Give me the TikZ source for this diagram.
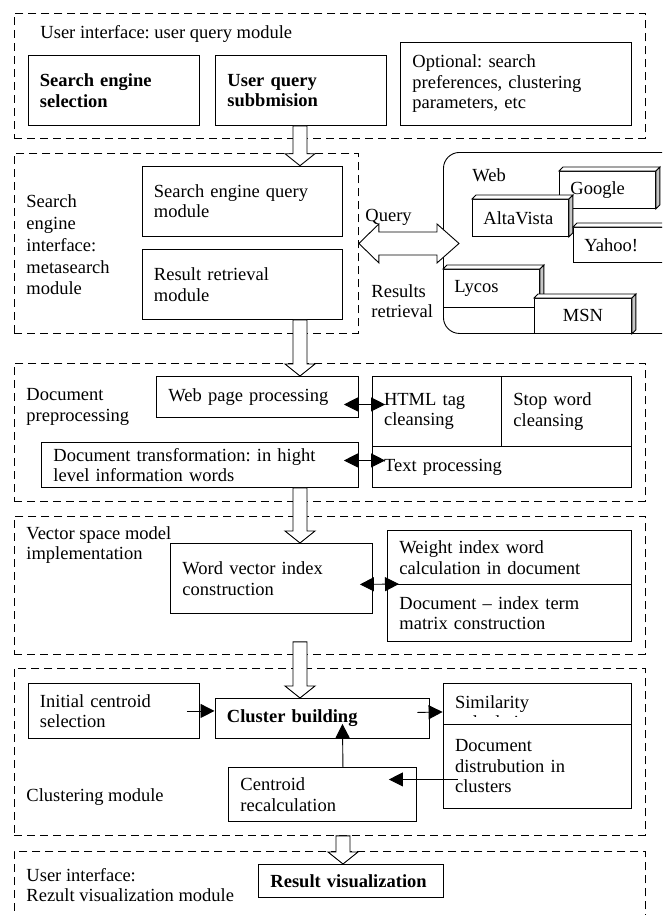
\documentclass[tikz,border=0pt]{standalone}
\usepackage{fontspec}
\setmainfont{Liberation Serif}
\usetikzlibrary{calc, arrows.meta, positioning}
\frenchspacing

% hollow block arrow going down, tip on the second point
\newcommand{\flowdown}[2]{%
  \draw[flow] let \p1=(#1), \p2=(#2) in
    (\x1-7pt,\y1) -- (\x1-7pt,\y2+12pt) -- (\x1-15pt,\y2+12pt) -- (\x1,\y2)
    -- (\x1+15pt,\y2+12pt) -- (\x1+7pt,\y2+12pt) -- (\x1+7pt,\y1) -- cycle;}

% search engine as a small 3d box
\newcommand{\webengine}[6][]{%
  \node (#2) [site, #1, text width=#4, minimum height=#5] at (#3) {#6};
  \draw[fill=white] (#2.north west) -- ++(4,-4) -- ($(#2.north east)+(4,-4)$) -- (#2.north east) -- cycle;
  \draw[fill=gray!45] (#2.north east) -- ++(4,-4) -- ($(#2.south east)+(4,-4)$) -- (#2.south east) -- cycle;}

\begin{document}
\begin{tikzpicture}[x=1pt, y=-1pt, line width=0.9pt, every node/.style={font=\fontsize{18.5pt}{20.5pt}\selectfont}]

	\tikzstyle{group}=[draw, dash pattern=on 8pt off 5pt, anchor=north west, inner sep=0pt]
	\tikzstyle{box}=[draw, fill=white, anchor=north west, align=left, inner xsep=12pt, inner ysep=0pt]
	\tikzstyle{strong}=[font=\fontsize{18.5pt}{20.5pt}\selectfont\bfseries]
	\tikzstyle{site}=[box, inner xsep=11pt]
	\tikzstyle{caption}=[anchor=west, align=left, inner sep=0pt]
	\tikzstyle{flow}=[draw, fill=white]
	\tikzstyle{link}=[-{Triangle[length=14pt, width=14pt]}]
	\tikzstyle{both}=[{Triangle[length=14pt, width=14pt]}-{Triangle[length=14pt, width=14pt]}]

	\useasboundingbox (0,0) rectangle (662,915);
	\clip (0,0) rectangle (662,915);

	\coordinate (spine) at (300,0);
	\coordinate (spine2) at (343,0);

	%% module frames
	\node (g1) [group, minimum width=631pt, minimum height=125pt] at (14,13) {};
	\node (g2) [group, minimum width=344pt, minimum height=180pt] at (14,153) {};
	\node (g3) [group, minimum width=631pt, minimum height=138pt] at (14,363) {};
	\node (g4) [group, minimum width=631pt, minimum height=138pt] at (14,516) {};
	\node (g5) [group, minimum width=631pt, minimum height=167pt] at (14,668) {};
	\node (g6) [group, minimum width=631pt, minimum height=90pt] at (14,851) {};

	%% user query module
	\node (ttl) [caption] at (40,34) {User interface: user query module};
	\node (ses) [box, strong, text width=147.5pt, minimum height=70pt] at (27.5,55) {Search engine\\selection};
	\node (usrq) [box, strong, text width=147pt, minimum height=70pt] at (215,55) {User query\\subbmision};
	\node (opt) [box, text width=207pt, minimum height=83pt] at (400,42) {Optional: search\\preferences, clustering\\parameters, etc};

	%% metasearch module
	\node (lbl2) [caption, font=\fontsize{18.5pt}{21.7pt}\selectfont] at (26,245) {Search\\engine\\interface:\\metasearch\\module};
	\node (seq) [box, text width=176.5pt, minimum height=70pt] at (141.5,165.7) {Search engine query\\module};
	\node (rrm) [box, text width=176.5pt, minimum height=70pt] at (141.5,249) {Result retrieval\\module};

	%% the web
	\node (web) [draw, rounded corners=16pt, anchor=north west, minimum width=250pt, minimum height=181pt, inner sep=0pt] at (443,152) {};
	\node (webl) [caption] at (472,175) {Web};
	\webengine{google}{559,171}{74pt}{37pt}{Google}
	\webengine{altavista}{472,199}{74pt}{37pt}{AltaVista}
	\webengine{yahoo}{573,227}{74pt}{35pt}{Yahoo!}
	\webengine{lycos}{443,269}{74pt}{38pt}{Lycos}
	\webengine[align=center]{msn}{534,298}{75pt}{35pt}{MSN}

	\draw[flow] let \p1=(g2.east), \p2=($(web.west)+(16,0)$) in
		(\p1) -- (\x1+20pt,\y1+19.5pt) -- (\x1+20pt,\y1+11.5pt) -- (\x2-22pt,\y1+11.5pt)
		-- (\x2-22pt,\y1+19.5pt) -- (\x2,\y1) -- (\x2-22pt,\y1-19.5pt) -- (\x2-22pt,\y1-11.5pt)
		-- (\x1+20pt,\y1-11.5pt) -- (\x1+20pt,\y1-19.5pt) -- cycle;
	\node (qry) [caption] at (365,217) {Query};
	\node (rsl) [caption] at (371,301) {Results\\retrieval};

	%% document preprocessing
	\node (lbl3) [caption] at (26,407) {Document\\preprocessing};
	\node (wpp) [box, text width=178pt, minimum height=41pt] at (156,376) {Web page processing};
	\node (doctr) [box, text width=293pt, minimum height=45pt] at (41,442) {Document transformation: in hight\\level information words};
	\node (html) [box, text width=105.4pt, minimum height=70pt] at (371.6,376) {HTML tag\\cleansing};
	\node (stop) [box, text width=106pt, minimum height=70pt] at (501,376) {Stop word\\cleansing};
	\node (textp) [box, text width=235.4pt, minimum height=41pt] at (371.6,446) {Text processing};

	\draw [both] ($(wpp.east)+(-15,7.5)$) -- ($(html.west)+(13.5,-7)$);
	\draw [both] ($(doctr.east)+(-15,-4.5)$) -- ($(textp.west)+(13.5,-6.5)$);

	%% vector space model
	\node (lbl4) [caption] at (26,545) {Vector space model\\implementation};
	\node (wvi) [box, text width=177.6pt, minimum height=70pt] at (170,543) {Word vector index\\construction};
	\node (weight) [box, text width=220pt, minimum height=54pt] at (387,530) {Weight index word\\calculation in document};
	\node (dim) [box, text width=220pt, minimum height=57pt] at (387,584) {Document – index term\\matrix construction};

	\draw [both] ($(wvi.east)+(-12.6,6)$) -- ($(dim.north west)+(12,0)$);

	%% clustering module
	\node (lbl5) [caption] at (26,797) {Clustering module};
	\node (init) [box, text width=147.5pt, minimum height=55pt] at (27.5,683) {Initial centroid\\selection};
	\node (clb) [box, strong, text width=190pt, minimum height=40pt] at (214.5,698) {Cluster building};
	\node (sim) [box, text width=164.4pt, minimum height=41pt] at (442.6,683) {Similarity};
	\begin{scope}
		\clip (sim.north west) rectangle ($(sim.south east)+(0,-8)$);
		\node (simc) [anchor=base west, inner sep=0pt] at (456,728) {calculation};
	\end{scope}
	\node (dist) [box, text width=164.4pt, minimum height=84pt] at (442.6,724) {Document\\distrubution in\\clusters};
	\node (crc) [box, text width=164pt, minimum height=54pt] at (228,767) {Centroid\\recalculation};

	\draw [link] ($(init.east)+(-13,0)$) -- (init.east -| clb.west);
	\draw [link] ($(clb.east)+(-12,-6)$) -- ($(sim.west)+(0,8)$);
	\draw [link] ($(crc.north)+(20.5,0)$) -- ($(clb.south)+(20.5,-15)$);
	\draw [link] ($(dist.west)+(15,13)$) -- ($(crc.east)+(-28,-15)$);

	%% result visualization
	\node (lbl6) [caption] at (26,885) {User interface:\\Rezult visualization module};
	\node (resvis) [box, strong, text width=161pt, minimum height=33pt] at (258,864) {Result visualization};

	%% flow between modules
	\flowdown{usrq.south -| spine}{seq.north -| spine}
	\flowdown{rrm.south -| spine}{wpp.north -| spine}
	\flowdown{doctr.south -| spine}{wvi.north -| spine}
	\flowdown{dim.south -| spine}{clb.north -| spine}
	\flowdown{g5.south -| spine2}{resvis.north -| spine2}

\end{tikzpicture}
\end{document}
